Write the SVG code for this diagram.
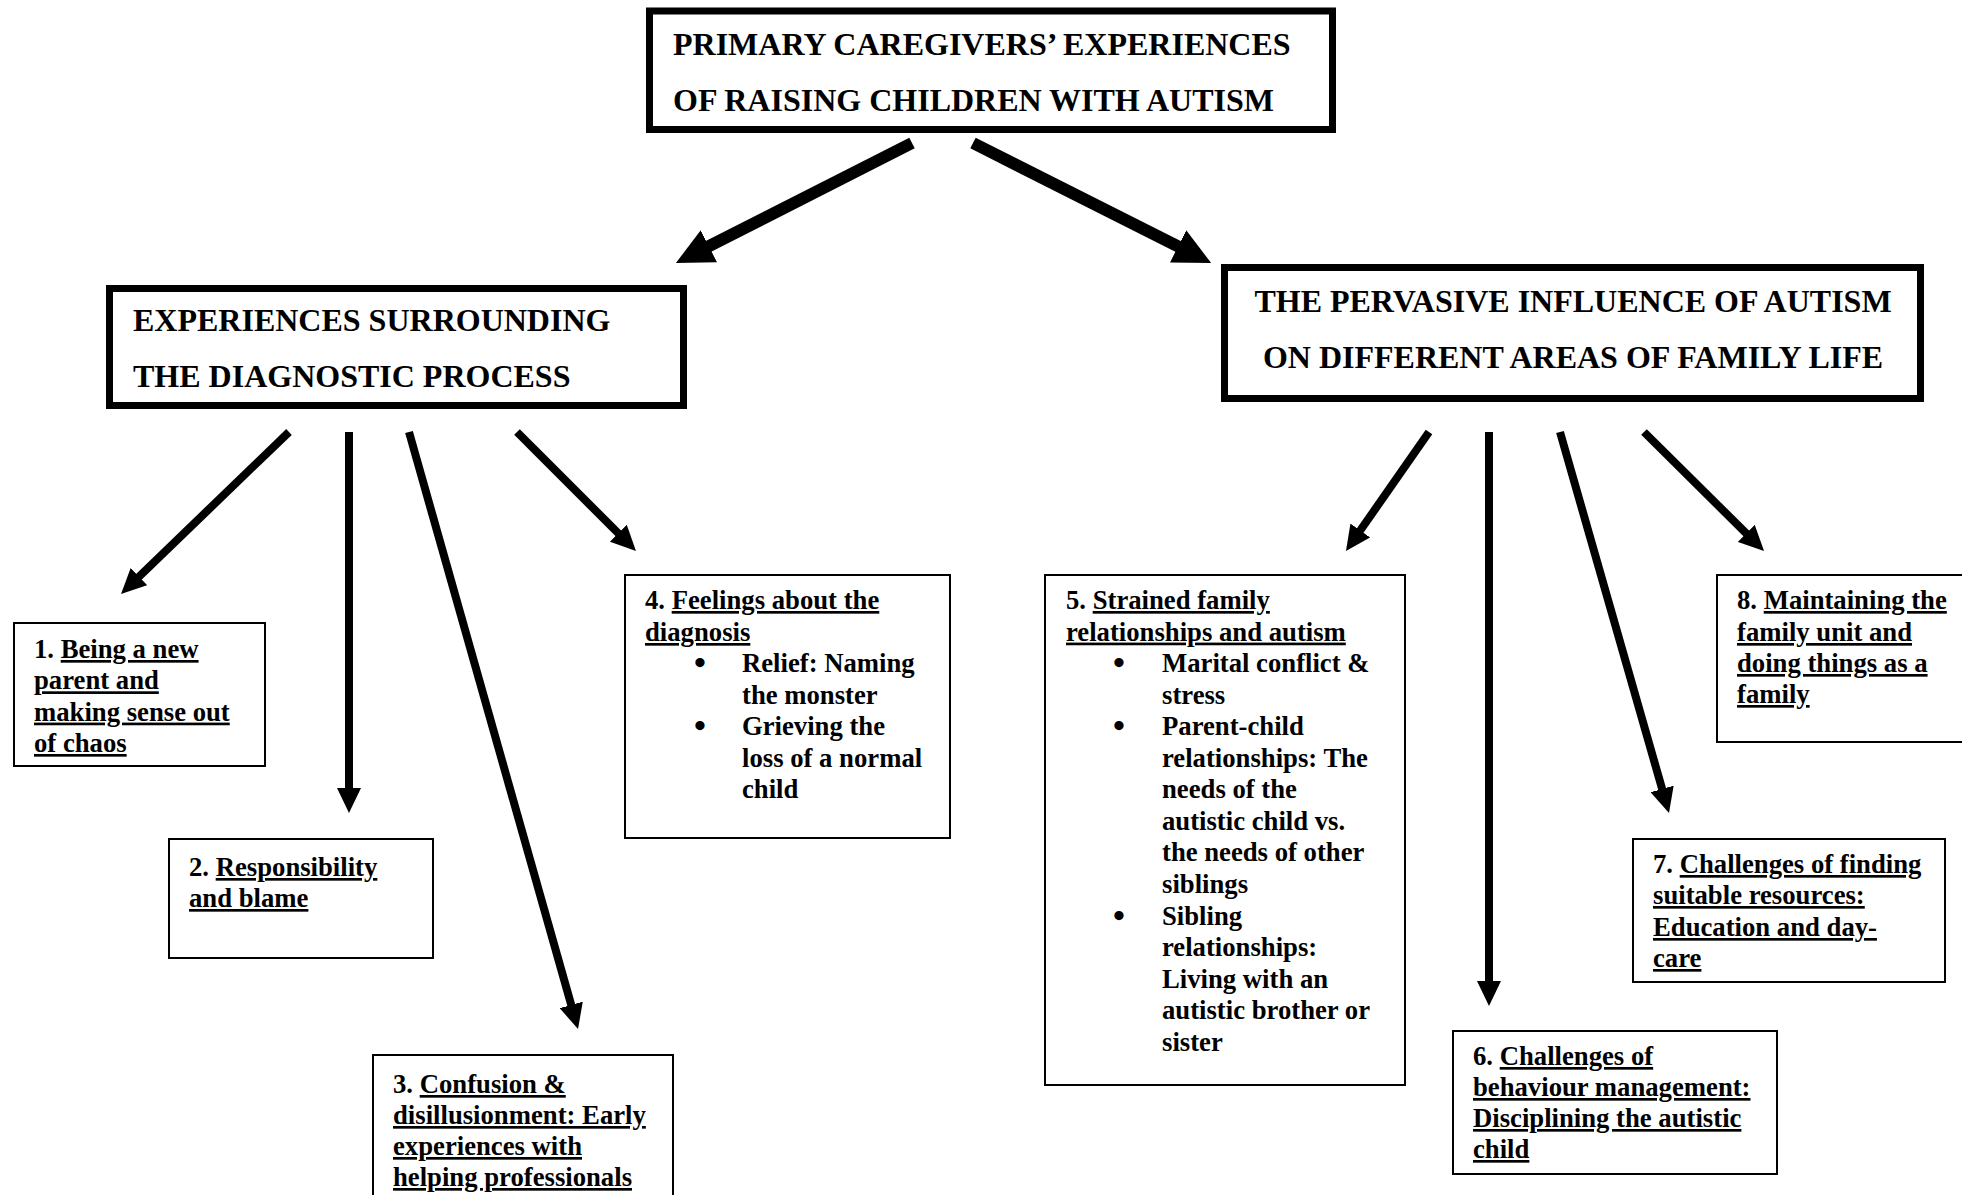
<svg xmlns="http://www.w3.org/2000/svg" width="1962" height="1195" viewBox="0 0 1962 1195">
<style>
text{font-family:"Liberation Serif","Times New Roman",serif;font-weight:bold;fill:#000}
.h{font-size:32px}
.b{font-size:26.7px}
.bl{font-size:34px}
.u{text-decoration:underline}
.thick{fill:#fff;stroke:#000;stroke-width:7}
.thin{fill:#fff;stroke:#000;stroke-width:2}
.c{stroke:#000;fill:none;stroke-width:8}
.cb{stroke:#000;fill:none;stroke-width:12}
</style>
<defs>
<marker id="ah" markerUnits="userSpaceOnUse" markerWidth="26" markerHeight="24" refX="1" refY="12" orient="auto" viewBox="0 0 26 24"><path d="M0,0 L25,12 L0,24 z" fill="#000"/></marker>
<marker id="ahb" markerUnits="userSpaceOnUse" markerWidth="38" markerHeight="36" refX="1" refY="18" orient="auto" viewBox="0 0 38 36"><path d="M0,0 L37,18 L0,36 z" fill="#000"/></marker>
</defs>
<rect width="1962" height="1195" fill="#fff"/>
<g id="connectors">
<line class="cb" x1="912" y1="143" x2="708" y2="246.7" marker-end="url(#ahb)"/>
<line class="cb" x1="973" y1="143" x2="1179" y2="246.8" marker-end="url(#ahb)"/>
<line class="c" x1="289" y1="432" x2="138.3" y2="577.3" marker-end="url(#ah)"/>
<line class="c" x1="349" y1="432" x2="349" y2="789" marker-end="url(#ah)"/>
<line class="c" x1="409" y1="432" x2="571.5" y2="1005.9" marker-end="url(#ah)"/>
<line class="c" x1="517" y1="432" x2="619" y2="534" marker-end="url(#ah)"/>
<line class="c" x1="1429" y1="432" x2="1359.7" y2="531.3" marker-end="url(#ah)"/>
<line class="c" x1="1489" y1="432" x2="1489" y2="982" marker-end="url(#ah)"/>
<line class="c" x1="1560" y1="432" x2="1662.4" y2="789.9" marker-end="url(#ah)"/>
<line class="c" x1="1644" y1="432" x2="1747" y2="534.1" marker-end="url(#ah)"/>
</g>
<g id="root">
<rect class="thick" x="649.5" y="11" width="683" height="118.5"/>
<text class="h" x="673" y="55">PRIMARY CAREGIVERS’ EXPERIENCES</text>
<text class="h" x="673" y="111">OF RAISING CHILDREN WITH AUTISM</text>
</g>
<g id="diagnostic">
<rect class="thick" x="109.5" y="288.5" width="574" height="117"/>
<text class="h" x="133" y="331">EXPERIENCES SURROUNDING</text>
<text class="h" x="133" y="387">THE DIAGNOSTIC PROCESS</text>
</g>
<g id="pervasive">
<rect class="thick" x="1224.5" y="267.5" width="696" height="131"/>
<text class="h" x="1573" y="312" text-anchor="middle">THE PERVASIVE INFLUENCE OF AUTISM</text>
<text class="h" x="1573" y="368" text-anchor="middle">ON DIFFERENT AREAS OF FAMILY LIFE</text>
</g>
<g id="n1">
<rect class="thin" x="14" y="623" width="251" height="143"/>
<text class="b" x="34" y="658">1. <tspan class="u">Being a new</tspan></text>
<text class="b u" x="34" y="689.3">parent and</text>
<text class="b u" x="34" y="720.6">making sense out</text>
<text class="b u" x="34" y="752">of chaos</text>
</g>
<g id="n2">
<rect class="thin" x="169" y="839" width="264" height="119"/>
<text class="b" x="189" y="876">2. <tspan class="u">Responsibility</tspan></text>
<text class="b u" x="189" y="907">and blame</text>
</g>
<g id="n3">
<rect class="thin" x="373" y="1055" width="300" height="160"/>
<text class="b" x="393" y="1093">3. <tspan class="u">Confusion &amp;</tspan></text>
<text class="b u" x="393" y="1124">disillusionment: Early</text>
<text class="b u" x="393" y="1155">experiences with</text>
<text class="b u" x="393" y="1186">helping professionals</text>
</g>
<g id="n4">
<rect class="thin" x="625" y="575" width="325" height="263"/>
<text class="b" x="645" y="609">4. <tspan class="u">Feelings about the</tspan></text>
<text class="b u" x="645" y="641">diagnosis</text>
<text class="bl" x="700" y="674" text-anchor="middle">•</text>
<text class="b" x="742" y="672">Relief: Naming</text>
<text class="b" x="742" y="704">the monster</text>
<text class="bl" x="700" y="737" text-anchor="middle">•</text>
<text class="b" x="742" y="735">Grieving the</text>
<text class="b" x="742" y="767">loss of a normal</text>
<text class="b" x="742" y="798">child</text>
</g>
<g id="n5">
<rect class="thin" x="1045" y="575" width="360" height="510"/>
<text class="b" x="1066" y="609">5. <tspan class="u">Strained family</tspan></text>
<text class="b u" x="1066" y="640.6">relationships and autism</text>
<text class="bl" x="1119" y="674" text-anchor="middle">•</text>
<text class="b" x="1162" y="672.1">Marital conflict &amp;</text>
<text class="b" x="1162" y="703.7">stress</text>
<text class="bl" x="1119" y="737" text-anchor="middle">•</text>
<text class="b" x="1162" y="735.2">Parent-child</text>
<text class="b" x="1162" y="766.8">relationships: The</text>
<text class="b" x="1162" y="798.3">needs of the</text>
<text class="b" x="1162" y="829.9">autistic child vs.</text>
<text class="b" x="1162" y="861.4">the needs of other</text>
<text class="b" x="1162" y="893">siblings</text>
<text class="bl" x="1119" y="926.5" text-anchor="middle">•</text>
<text class="b" x="1162" y="924.5">Sibling</text>
<text class="b" x="1162" y="956.1">relationships:</text>
<text class="b" x="1162" y="987.6">Living with an</text>
<text class="b" x="1162" y="1019.2">autistic brother or</text>
<text class="b" x="1162" y="1050.7">sister</text>
</g>
<g id="n6">
<rect class="thin" x="1453" y="1031" width="324" height="143"/>
<text class="b" x="1473" y="1065">6. <tspan class="u">Challenges of</tspan></text>
<text class="b u" x="1473" y="1096">behaviour management:</text>
<text class="b u" x="1473" y="1127">Disciplining the autistic</text>
<text class="b u" x="1473" y="1158">child</text>
</g>
<g id="n7">
<rect class="thin" x="1633" y="839" width="312" height="143"/>
<text class="b" x="1653" y="873">7. <tspan class="u">Challenges of finding</tspan></text>
<text class="b u" x="1653" y="904">suitable resources:</text>
<text class="b u" x="1653" y="936">Education and day-</text>
<text class="b u" x="1653" y="967">care</text>
</g>
<g id="n8">
<rect class="thin" x="1717" y="575" width="260" height="167"/>
<text class="b" x="1737" y="609">8. <tspan class="u">Maintaining the</tspan></text>
<text class="b u" x="1737" y="641">family unit and</text>
<text class="b u" x="1737" y="672">doing things as a</text>
<text class="b u" x="1737" y="703">family</text>
</g>
</svg>
